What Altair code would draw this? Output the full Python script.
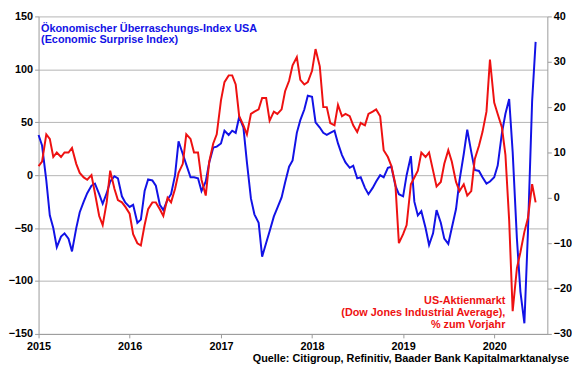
import altair as alt
import pandas as pd

# semi-monthly observation dates (1st and 15th of each month)
dates = pd.date_range("2015-01-01", "2020-06-15", freq="SMS")

# Citi Economic Surprise Index USA (left axis)
surprise = [
    38, 28, -5, -38, -50, -68, -58, -55, -60, -72,
    -50, -35, -25, -17, -10, -8, -18, -27, -17, -6,
    -1, -3, -20, -26, -30, -28, -45, -42, -15, -4,
    -5, -10, -28, -33, -23, -18, 0, 32, 20, 10,
    -2, -2, -3, -15, -6, 12, 26, 27, 30, 42,
    38, 42, 40, 55, 45, 12, -22, -37, -45, -77,
    -64, -53, -39, -31, -21, -7, 8, 14, 40, 52,
    62, 75, 74, 50, 45, 40, 38, 40, 42, 30,
    19, 12, 7, 9, -3, -2, -12, -18, -12, -6,
    0, -2, 7, 8, -10, -18, -20, 0, 18, -25,
    -38, -34, -50, -66, -55, -33, -45, -60, -65, -50,
    -32, -5, 20, 43, 22, 5, 4, -2, -8, -6,
    -2, 9, 40, 58, 72, 22, -60, -110, -140, -55,
    70, 126,
]

# Dow Jones Industrial Average, % yoy (right axis)
djia = [
    7, 8, 14, 13, 9, 10, 9, 10, 10, 11,
    7.5, 5.5, 4.5, 4, 5, 1, -4, -6, -1, 6,
    2, -0.5, -1, -2, -3.5, -8, -10, -10.5, -6, -2.5,
    -1, -1, -2.5, -4, 0, -1, 2, 5.5, 7.5, 14,
    13, 10, 10, 4, 0.5, 8, 12, 14, 21.5, 25.5,
    27, 27, 25, 18, 16, 14, 18.5, 19, 19.5, 22,
    22, 17, 19, 18.5, 19.5, 23.5, 25.8, 29.2, 31, 26,
    25, 25.5, 28, 32.8, 29, 20, 20, 16.5, 16, 20.5,
    18, 18.5, 18, 16, 14.5, 16.5, 16, 18.5, 19, 19.5,
    18, 10.5, 9, 7, 3, -10, -8, -6, 3, 4.5,
    6, 10, 9, 10, 6, 2.5, 3.5, 7.5, 10.5, 8,
    3.5, 1.5, 3, 0.5, 1.5, 8.5, 11.5, 14.5, 19, 30.5,
    21, 18.5, 15.5, 9.5, -5, -25, -15.5, -12, -7.5, -4.5,
    3, -1,
]

left_ticks = [-150, -100, -50, 0, 50, 100, 150]
right_ticks = [-30, -20, -10, 0, 10, 20, 30, 40]
years = [2015, 2016, 2017, 2018, 2019, 2020]

title_lines = ["Ökonomischer Überraschungs-Index USA", "(Economic Surprise Index)"]
djia_lines = ["US-Aktienmarkt", "(Dow Jones Industrial Average),", "% zum Vorjahr"]
source = "Quelle: Citigroup, Refinitiv, Baader Bank Kapitalmarktanalyse"

df = pd.DataFrame({"date": dates, "surprise": surprise, "djia": djia})

BLUE = "#1212e6"
RED = "#ee1111"
GRID = "#b4b4b4"
AXIS = "#9a9a9a"
FONT = "Liberation Sans"
W, H = 516, 322

axis_common = dict(
    labelFont=FONT, labelFontSize=11, labelFontWeight="bold", labelColor="black",
    tickColor=AXIS, domainColor=AXIS, tickSize=4, title=None,
)

x = alt.X(
    "date:T",
    title=None,
    scale=alt.Scale(domain=[alt.DateTime(year=2015, month=1, date=1),
                            alt.DateTime(year=2020, month=8, date=1)]),
    axis=alt.Axis(values=[alt.DateTime(year=y, month=1, date=1) for y in years],
                  format="%Y", labelFlush=False, labelPadding=3, grid=False,
                  **axis_common),
)

blue = alt.Chart(df).mark_line(color=BLUE, strokeWidth=2).encode(
    x=x,
    y=alt.Y("surprise:Q", title=None,
            scale=alt.Scale(domain=[-150, 150], nice=False, zero=False),
            axis=alt.Axis(orient="left", values=left_ticks, grid=True, gridColor=GRID,
                          gridWidth=1, labelPadding=2, **axis_common)),
)

red = alt.Chart(df).mark_line(color=RED, strokeWidth=2).encode(
    x=x,
    y=alt.Y("djia:Q", title=None,
            scale=alt.Scale(domain=[-30, 40], nice=False, zero=False),
            axis=alt.Axis(orient="right", values=right_ticks, grid=False,
                          labelPadding=2, **axis_common)),
)


def txt(text, px, py, color, align):
    return alt.Chart(pd.DataFrame({"t": [text]})).mark_text(
        align=align, baseline="alphabetic", font=FONT, fontSize=11,
        fontWeight="bold", color=color,
    ).encode(x=alt.value(px), y=alt.value(py), text="t:N")


texts = [
    txt(title_lines[0], 2.5, 15.3, BLUE, "left"),
    txt(title_lines[1], 2.5, 27.2, BLUE, "left"),
    txt(djia_lines[0], 473.4, 291.9, RED, "right"),
    txt(djia_lines[1], 473.4, 304.2, RED, "right"),
    txt(djia_lines[2], 473.4, 316.1, RED, "right"),
    txt(source, 538, 350, "black", "right"),
]

chart = alt.layer(blue, red, *texts).resolve_scale(y="independent").properties(
    width=W, height=H, padding={"left": 0, "top": 0, "right": 0, "bottom": 0},
    background="white",
).configure_view(stroke=None)

chart.save("out.html", embed_options={"renderer": "svg", "actions": False})
